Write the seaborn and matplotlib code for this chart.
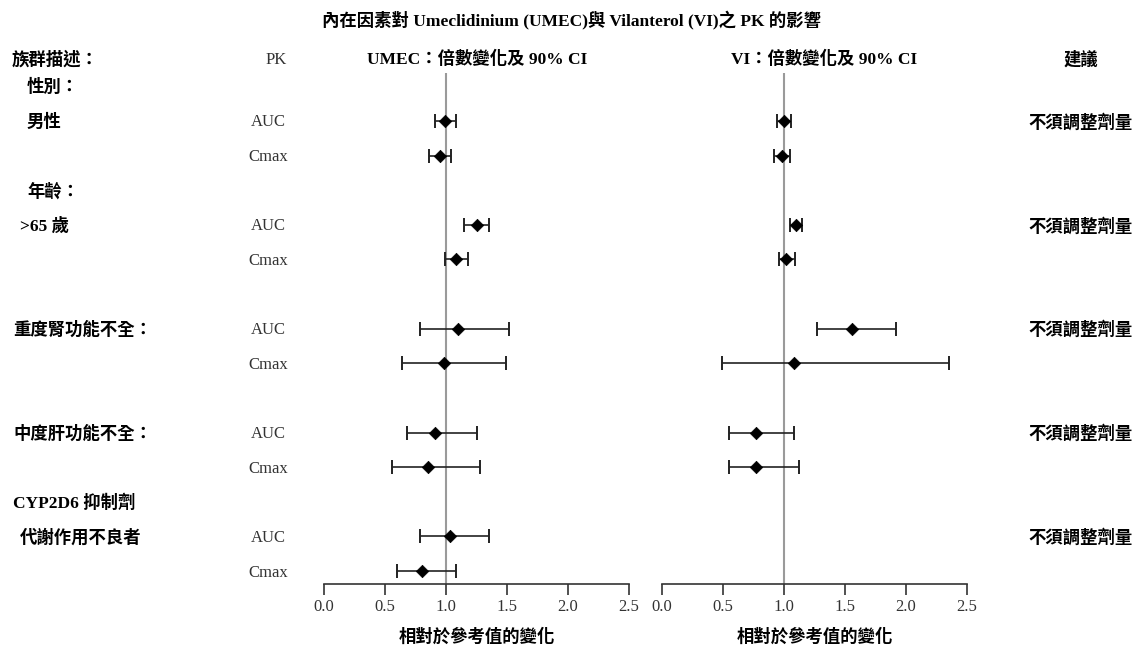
import numpy as np
import pandas as pd
import matplotlib
matplotlib.use("Agg")
import matplotlib.pyplot as plt
import seaborn as sns

# ---------------- data ----------------
title = "內在因素對 Umeclidinium (UMEC)與 Vilanterol (VI)之 PK 的影響"
group_labels = ["男性", ">65 歲", "重度腎功能不全：", "中度肝功能不全：", "代謝作用不良者"]
group_headers = ["性別：", "年齡：", None, None, "CYP2D6 抑制劑"]
pk_params = ["AUC", "Cmax"]
recommendation = "不須調整劑量"

umec_group = [0, 0, 1, 1, 2, 2, 3, 3, 4, 4]
umec_param = [0, 1, 0, 1, 0, 1, 0, 1, 0, 1]
umec_est = [0.99, 0.95, 1.25, 1.08, 1.10, 0.98, 0.91, 0.85, 1.03, 0.80]
umec_lo = [0.91, 0.86, 1.15, 0.99, 0.79, 0.64, 0.68, 0.56, 0.79, 0.60]
umec_hi = [1.08, 1.04, 1.35, 1.18, 1.52, 1.49, 1.25, 1.28, 1.35, 1.08]

vi_group = [0, 0, 1, 1, 2, 2, 3, 3]
vi_param = [0, 1, 0, 1, 0, 1, 0, 1]
vi_est = [1.00, 0.98, 1.10, 1.02, 1.56, 1.08, 0.77, 0.77]
vi_lo = [0.94, 0.92, 1.05, 0.96, 1.27, 0.49, 0.55, 0.55]
vi_hi = [1.06, 1.05, 1.15, 1.09, 1.92, 2.35, 1.08, 1.12]

x_ticks = [0.0, 0.5, 1.0, 1.5, 2.0, 2.5]
umec_header = "UMEC：倍數變化及 90% CI"
vi_header = "VI：倍數變化及 90% CI"
xlabel = "相對於參考值的變化"

# ---------------- style ----------------
sns.set_theme(style="white")
FAM = ["Liberation Serif", "Noto Sans CJK TC", "DejaVu Sans"]
plt.rcParams["font.family"] = FAM

W, H = 1137, 649
fig = plt.figure(figsize=(W / 100, H / 100), dpi=100)

ROW0, STEP = 121.0, 34.62          # pixel y of first row, row spacing
AX_TOP, AX_BOT = 73.0, 584.0
def row_of(py):
    return (py - ROW0) / STEP
def py_of(r):
    return ROW0 + r * STEP

def make_df(g, p, est, lo, hi):
    df = pd.DataFrame({"g": g, "p": p, "est": est, "lo": lo, "hi": hi})
    df["row"] = df["g"] * 3 + df["p"]
    return df

umec_df = make_df(umec_group, umec_param, umec_est, umec_lo, umec_hi)
vi_df = make_df(vi_group, vi_param, vi_est, vi_lo, vi_hi)

def forest(left_px, df):
    ax = fig.add_axes([left_px / W, 1 - AX_BOT / H, 305 / W, (AX_BOT - AX_TOP) / H])
    ax.axvline(1.0, color="#9a9a9a", lw=1.5, zorder=1)
    ax.errorbar(df["est"], df["row"],
                xerr=[df["est"] - df["lo"], df["hi"] - df["est"]],
                fmt="none", ecolor="#222222", elinewidth=1.2, capsize=4.8,
                capthick=1.4, zorder=2)
    sns.scatterplot(data=df, x="est", y="row", marker="D", s=40,
                    color="black", edgecolor="black", linewidth=0.5,
                    ax=ax, zorder=3, legend=False)
    ax.set_xlim(0, 2.5)
    ax.set_ylim(row_of(AX_BOT), row_of(AX_TOP))
    for s in ["top", "left", "right"]:
        ax.spines[s].set_visible(False)
    ax.spines["bottom"].set_color("#333333")
    ax.spines["bottom"].set_linewidth(1.2)
    ax.set_yticks([])
    ax.set_xticks(x_ticks)
    ax.set_xticklabels([f"{t:.1f}" for t in x_ticks], family=FAM, fontsize=12,
                       color="#333333")
    ax.tick_params(axis="x", direction="out", length=8, width=1.2,
                   color="#333333", pad=3, bottom=True)
    ax.set_xlabel(xlabel, family=FAM, fontsize=12.5, fontweight="bold",
                  labelpad=9, color="black")
    ax.set_ylabel("")
    ax.patch.set_alpha(0)
    return ax

forest(324, umec_df)
forest(662, vi_df)

# ---------------- text overlay ----------------
ov = fig.add_axes([0, 0, 1, 1])
ov.set_xlim(0, W)
ov.set_ylim(H, 0)
ov.axis("off")
ov.patch.set_alpha(0)

def txt(x, y, s, ha="left", bold=True, color="black", size=12.5):
    ov.text(x, y + 1.5, s, ha=ha, va="center", family=FAM, fontsize=size,
            fontweight="bold" if bold else "normal", color=color)

txt(571, 19, title, ha="center")
txt(12, 58, "族群描述：")
txt(276, 58, "PK", ha="center", bold=False, color="#333333", size=12)
txt(477, 58, umec_header, ha="center")
txt(824, 58, vi_header, ha="center")
txt(1081, 58, "建議", ha="center")

indent = [27, 20, 13, 13, 20]
hdr_indent = [27, 27, None, None, 13]
for g, lab in enumerate(group_labels):
    r0 = g * 3
    txt(indent[g], py_of(r0), lab)
    if group_headers[g] is not None:
        txt(hdr_indent[g], py_of(r0 - 1), group_headers[g])
    for p, name in enumerate(pk_params):
        txt(268, py_of(r0 + p), name, ha="center", bold=False, color="#333333", size=12)
    txt(1081, py_of(r0), recommendation, ha="center")

fig.savefig("out.png", dpi=100, facecolor="white")
